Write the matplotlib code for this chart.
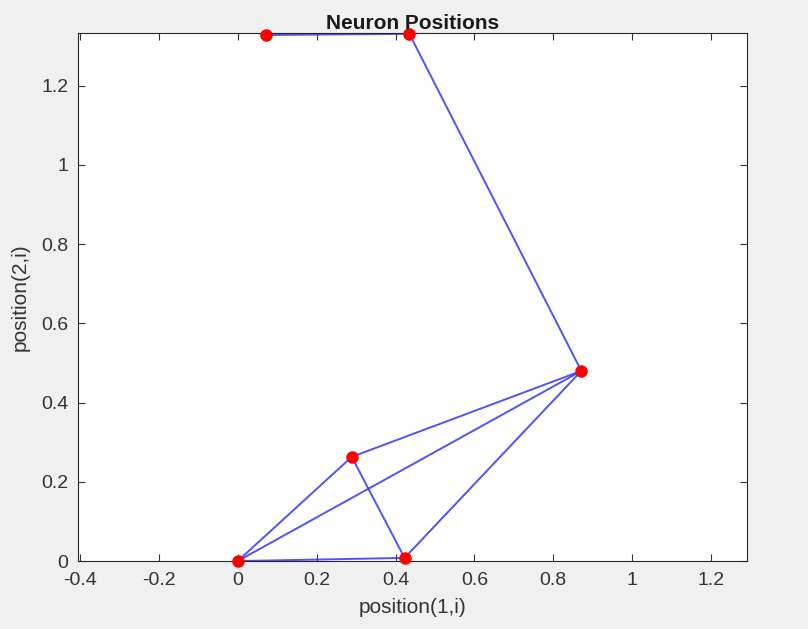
import matplotlib.pyplot as plt
import numpy as np

plt.rcParams['font.family'] = ['Liberation Sans', 'DejaVu Sans']

# neuron coordinates
pos_x = [0.0, 0.423, 0.289, 0.871, 0.071, 0.435]
pos_y = [0.0, 0.008, 0.263, 0.480, 1.328, 1.331]

# neighbour links between neurons (index pairs)
links = [(0, 1), (0, 2), (0, 3), (2, 1), (2, 3), (1, 3), (3, 5), (5, 4)]

fig = plt.figure(figsize=(8.08, 6.29), dpi=100, facecolor='#f0f0f0')
ax = fig.add_axes([0.0965, 0.108, 0.828, 0.8395])

for i, j in links:
    ax.plot([pos_x[i], pos_x[j]], [pos_y[i], pos_y[j]], color='#3333ff',
            linewidth=1.4, alpha=0.85, zorder=2)
ax.plot(pos_x, pos_y, 'o', color='red', markersize=8, zorder=3, clip_on=False)

ax.set_xlim(-0.405, 1.291)
ax.set_ylim(0, 1.333)
ax.set_xticks(np.arange(-0.4, 1.21, 0.2))
ax.set_xticklabels(['-0.4', '-0.2', '0', '0.2', '0.4', '0.6', '0.8', '1', '1.2'])
ax.set_yticks(np.arange(0, 1.21, 0.2))
ax.set_yticklabels(['0', '0.2', '0.4', '0.6', '0.8', '1', '1.2'])
ax.tick_params(direction='in', top=True, right=True, labelsize=14,
               colors='#333333', length=5)
ax.tick_params(axis='x', pad=8)
ax.tick_params(axis='y', pad=7)
for s in ax.spines.values():
    s.set_color('#262626')
    s.set_linewidth(0.8)

ax.set_title('Neuron Positions', fontsize=15, fontweight='bold', pad=3,
             color='#1a1a1a')
ax.set_xlabel('position(1,i)', fontsize=15, color='#333333', labelpad=6)
ax.set_ylabel('position(2,i)', fontsize=15, color='#333333', labelpad=8)

fig.savefig('out.png', dpi=100, facecolor=fig.get_facecolor())
